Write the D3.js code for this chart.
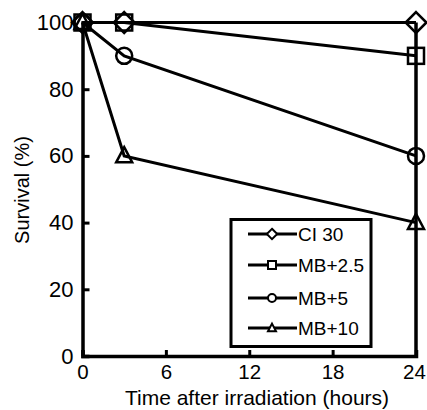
<!DOCTYPE html>
<html><head><meta charset="utf-8">
<script src="https://cdn.jsdelivr.net/npm/d3@7"></script>
<style>body{margin:0;background:#fff}svg{display:block}text{font-family:"Liberation Sans",Arial,sans-serif;fill:#000}</style>
</head><body>
<svg id="c" width="427" height="410"></svg>
<script>
const times = [0, 3, 24];
const seriesNames = ["CI 30", "MB+2.5", "MB+5", "MB+10"];
const ci30 = [100, 100, 100];
const mb25 = [100, 100, 90];
const mb5 = [100, 90, 60];
const mb10 = [100, 60, 40];
const symbols = ["diamond", "square", "circle", "triangle"];
const xTicks = [0, 6, 12, 18, 24];
const yTicks = [0, 20, 40, 60, 80, 100];

const seriesValues = [ci30, mb25, mb5, mb10];
const svg = d3.select("#c");
const x = d3.scaleLinear().domain([0, 24]).range([82.5, 416]);
const y = d3.scaleLinear().domain([0, 100]).range([356, 22.5]);

function marker(g, type, cx, cy, s) {
  if (type === "circle") g.append("circle").attr("cx", cx).attr("cy", cy).attr("r", s*0.5);
  else if (type === "square") g.append("rect").attr("x", cx - s*0.5).attr("y", cy - s*0.5).attr("width", s).attr("height", s);
  else if (type === "diamond") g.append("path").attr("d", `M${cx},${cy - s*0.65}L${cx + s*0.65},${cy}L${cx},${cy + s*0.65}L${cx - s*0.65},${cy}Z`);
  else g.append("path").attr("d", `M${cx},${cy - s*0.55}L${cx + s*0.5},${cy + s*0.4}L${cx - s*0.5},${cy + s*0.4}Z`);
}

// axes
const ax = svg.append("g").attr("transform", `translate(0,${y(0)})`)
  .call(d3.axisBottom(x).tickValues(xTicks).tickSize(-6).tickPadding(8));
const ay = svg.append("g").attr("transform", `translate(${x(0)},0)`)
  .call(d3.axisLeft(y).tickValues(yTicks).tickSize(-7).tickPadding(9));
[ax, ay].forEach(a => {
  a.select(".domain").attr("stroke-width", 3.5).attr("stroke", "#000");
  a.selectAll(".tick line").attr("stroke-width", 3).attr("stroke", "#000");
  a.selectAll(".tick text").attr("fill", "#000");
});
ay.selectAll(".tick text").style("font-size", "22px");
ax.selectAll(".tick text").style("font-size", "20.5px").attr("dy", "0.75em")
  .attr("dx", d => d === 24 ? -2 : 0);
// right frame
svg.append("line").attr("x1", x(24)).attr("x2", x(24)).attr("y1", y(100)).attr("y2", y(0))
  .attr("stroke", "#000").attr("stroke-width", 3.5);

// series
const line = d3.line().x((d, i) => x(times[i])).y(d => y(d));
seriesValues.forEach((vals, k) => {
  svg.append("path").attr("d", line(vals)).attr("fill", "none").attr("stroke", "#000").attr("stroke-width", 3);
  const g = svg.append("g").attr("fill", "none").attr("stroke", "#000").attr("stroke-width", 2.5);
  vals.forEach((v, i) => marker(g, symbols[k], x(times[i]), y(v), 16));
});

// legend
const lg = svg.append("g");
lg.append("rect").attr("x", 231).attr("y", 219.5).attr("width", 140).attr("height", 127)
  .attr("fill", "#fff").attr("stroke", "#000").attr("stroke-width", 3);
const rowY = [234, 265, 298, 328];
seriesNames.forEach((n, k) => {
  lg.append("line").attr("x1", 248).attr("x2", 297).attr("y1", rowY[k]).attr("y2", rowY[k]).attr("stroke", "#000").attr("stroke-width", 3);
  const g = lg.append("g").attr("fill", "#fff").attr("stroke", "#000").attr("stroke-width", 2);
  marker(g, symbols[k], 272, rowY[k], 8);
  lg.append("text").attr("x", 298).attr("y", rowY[k]).attr("dy", "0.36em").style("font-size", "19px").text(n);
});

// axis titles
svg.append("text").attr("x", 257).attr("y", 405).attr("text-anchor", "middle").style("font-size", "21px")
  .text("Time after irradiation (hours)");
svg.append("text").attr("transform", "translate(22,190) rotate(-90)").attr("text-anchor", "middle")
  .attr("dy", "0.36em").style("font-size", "20px").text("Survival (%)");
</script>
</body></html>
